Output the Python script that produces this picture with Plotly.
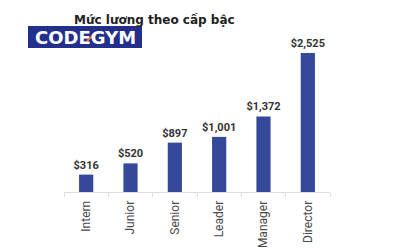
import plotly.graph_objects as go

categories = ["Intern", "Junior", "Senior", "Leader", "Manager", "Director"]
salaries = [316, 520, 897, 1001, 1372, 2525]
title_text = "Mức lương theo cấp bậc"
logo_text = "CODEGYM"

W, H = 400, 250
ML, MR, MT, MB = 64, 70, 40, 58
PW = W - ML - MR
PH = H - MT - MB

def px(x):
    return (x - ML) / PW

def py(y):
    return (H - MB - y) / PH

labels = [f"${v:,}" for v in salaries]

fig = go.Figure(go.Bar(
    x=categories, y=salaries, text=labels, textposition="outside",
    constraintext="none",
    marker=dict(color="#34499a", line=dict(width=0)),
    textfont=dict(family="Roboto, sans-serif", size=11, color="#333333", weight="bold"),
    cliponaxis=False,
))

fig.update_layout(
    width=W, height=H,
    margin=dict(l=ML, r=MR, t=MT, b=MB),
    paper_bgcolor="white", plot_bgcolor="white",
    bargap=0.68,
    showlegend=False,
    xaxis=dict(
        showline=True, linecolor="#dddddd", linewidth=1,
        ticks="outside", tickson="boundaries", ticklen=4, tickcolor="#dddddd",
        tickangle=-90, automargin=False, ticklabelstandoff=3,
        tickfont=dict(family="Roboto, Arial, sans-serif", size=12, color="#4a4a4a"),
        showgrid=False, zeroline=False,
        range=[-0.5, 5.5],
    ),
    yaxis=dict(visible=False, automargin=False, range=[0, 2525 * PH / 139]),
    shapes=[
        dict(type="rect", xref="paper", yref="paper",
             x0=px(28), x1=px(142), y0=py(48), y1=py(26),
             fillcolor="#232f8c", line=dict(width=0), layer="above"),
    ],
    annotations=[
        dict(text=f"<b>{title_text}</b>", xref="paper", yref="paper",
             x=px(72), y=py(20), xanchor="left", yanchor="middle",
             showarrow=False,
             font=dict(family="DejaVu Sans, sans-serif", size=12, color="#222222")),
        dict(text=f"<b>{logo_text}</b>", xref="paper", yref="paper",
             x=px(85), y=py(37), xanchor="center", yanchor="middle",
             showarrow=False,
             font=dict(family="DejaVu Sans, sans-serif", size=18, color="white")),
    ],
)

fig.add_shape(type="line", xref="paper", yref="paper",
              x0=px(87), y0=py(41), x1=px(95), y1=py(33),
              line=dict(color="#f26b22", width=2), layer="above")

fig.write_html("out.html")
